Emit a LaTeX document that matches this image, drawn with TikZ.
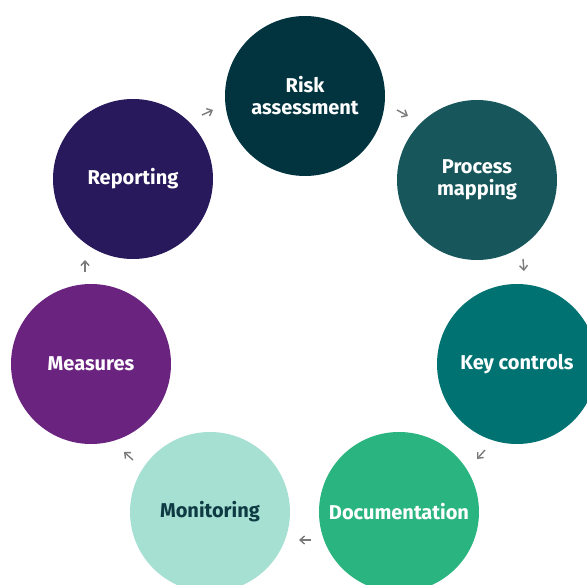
\documentclass[tikz,border=0pt]{standalone}
\usepackage{fontspec}
\setmainfont{Fira Sans}
\usetikzlibrary{arrows.meta}
\definecolor{cRisk}{HTML}{02343F}
\definecolor{cProc}{HTML}{17575B}
\definecolor{cKey}{HTML}{007272}
\definecolor{cDoc}{HTML}{2AB47F}
\definecolor{cMon}{HTML}{A6E0D3}
\definecolor{cMea}{HTML}{6B2380}
\definecolor{cRep}{HTML}{27195B}
\definecolor{cMonText}{HTML}{0E3A44}
\definecolor{cArr}{HTML}{7A7A7A}
\tikzset{
  stage/.style={circle, minimum size=160pt, inner sep=0pt, text=white, align=center,
    font=\fontsize{20pt}{22pt}\selectfont\bfseries},
  flow/.style={cArr, line width=1.4pt, -{Straight Barb[length=4.5pt,width=8pt]}}
}
\begin{document}
\begin{tikzpicture}[x=1pt,y=-1pt]
\clip (0,0) rectangle (587,585);
\useasboundingbox (0,0) rectangle (587,585);
\node[stage, fill=cRisk] (risk) at (305,96) {Risk\\assessment};
\node[stage, fill=cProc] (proc) at (477,180) {Process\\mapping};
\node[stage, fill=cKey] (key) at (517,364) {Key controls};
\node[stage, fill=cDoc] (doc) at (399,512) {Documentation};
\node[stage, fill=cMon, text=cMonText] (mon) at (210,512) {Monitoring};
\node[stage, fill=cMea] (mea) at (91,364) {Measures};
\node[stage, fill=cRep] (rep) at (133,179) {Reporting};
\coordinate (a1s) at (202,115); \coordinate (a1e) at (213,110);
\coordinate (a2s) at (397,110); \coordinate (a2e) at (408,116);
\coordinate (a3s) at (523,259); \coordinate (a3e) at (524,271);
\coordinate (a4s) at (485,450); \coordinate (a4e) at (477,459);
\coordinate (a5s) at (311,540); \coordinate (a5e) at (299,540);
\coordinate (a6s) at (133,460); \coordinate (a6e) at (124,452);
\coordinate (a7s) at (85,272); \coordinate (a7e) at (85,260);
\draw[flow] (a1s) -- (a1e);
\draw[flow] (a2s) -- (a2e);
\draw[flow] (a3s) -- (a3e);
\draw[flow] (a4s) -- (a4e);
\draw[flow] (a5s) -- (a5e);
\draw[flow] (a6s) -- (a6e);
\draw[flow] (a7s) -- (a7e);
\end{tikzpicture}
\end{document}
